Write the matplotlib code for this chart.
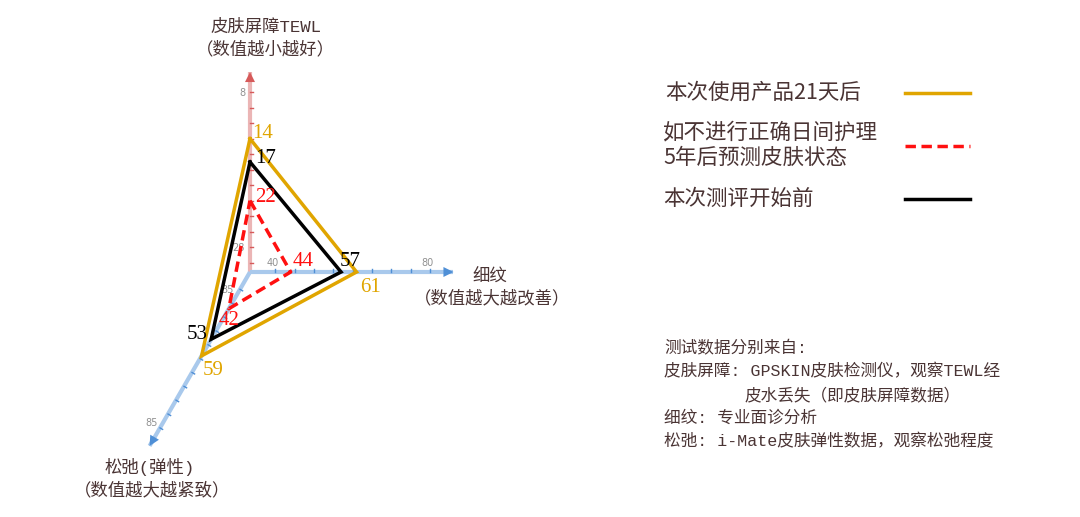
import numpy as np
import matplotlib.pyplot as plt
from matplotlib.patches import FancyArrowPatch

# data: TEWL (up), fine lines (right), sagging (down-left)
series_names = ['本次使用产品21天后', '如不进行正确日间护理\n5年后预测皮肤状态', '本次测评开始前']
tewl = [14, 22, 17]
lines_val = [61, 44, 57]
sag = [59, 42, 53]
colors = ['#E0A500', '#FF1010', '#000000']
styles = ['-', (0, (3, 1.6)), '-']

tewl_ticks = list(range(8, 31, 2))
lines_ticks = list(range(40, 81, 5))
sag_ticks = list(range(35, 86, 5))

CJK = ['Noto Sans CJK SC', 'DejaVu Sans']
MONO = ['Liberation Mono', 'Noto Sans CJK SC']
TXT = '#4A3434'

O = np.array([250.0, 272.0])
sag_dir = np.array([-0.5, np.sqrt(3) / 2])


def p_tewl(v):
    return np.array([O[0], O[1] - (31.2 - v) * 7.75])


def p_lines(v):
    return np.array([O[0] + (v - 33.5) * 3.875, O[1]])


def p_sag(v):
    return O + (v - 28.75) * 3.2 * sag_dir


fig = plt.figure(figsize=(10.8, 5.17), dpi=100)
ax = fig.add_axes([0, 0, 1, 1])
ax.set_xlim(0, 1080)
ax.set_ylim(517, 0)
ax.axis('off')


def draw_axis(tip, shaft_col, head_col, tick_pts, normal):
    ax.plot([O[0], tip[0]], [O[1], tip[1]], color=shaft_col, lw=3, zorder=1,
            solid_capstyle='butt')
    d = (tip - O) / np.linalg.norm(tip - O)
    start = tip - d * 16
    ax.add_patch(FancyArrowPatch(start, tip, arrowstyle='-|>', mutation_scale=18,
                                 color=head_col, lw=0, shrinkA=0, shrinkB=0, zorder=2))
    for p in tick_pts:
        q1 = p + normal * 3
        ax.plot([p[0], q1[0]], [p[1], q1[1]], color=head_col, lw=1, zorder=1)


draw_axis(p_tewl(5.4), '#EBB5B5', '#D65A5A', [p_tewl(v) for v in tewl_ticks], np.array([1, 0]))
draw_axis(p_lines(86.0), '#A9C9EC', '#4F8FD6', [p_lines(v) for v in lines_ticks], np.array([0, -1]))
draw_axis(p_sag(91.5), '#A9C9EC', '#4F8FD6', [p_sag(v) for v in sag_ticks], np.array([0.866, 0.5]))

# small axis tick labels
tick_kw = dict(fontsize=7, color='#909090', ha='center', va='center')
ax.text(242, 93, '8', **tick_kw)
ax.text(238, 248, '28', **tick_kw)
ax.text(273, 263, '40', **tick_kw)
ax.text(428, 263, '80', **tick_kw)
ax.text(228, 290, '35', **tick_kw)
ax.text(152, 423, '85', **tick_kw)

# polygons
for i in range(3):
    pts = np.array([p_tewl(tewl[i]), p_lines(lines_val[i]), p_sag(sag[i])])
    pts = np.vstack([pts, pts[:1]])
    ax.plot(pts[:, 0], pts[:, 1], color=colors[i], lw=2.5, linestyle=styles[i],
            zorder=3 + i, solid_joinstyle='miter')

# value labels
num_kw = dict(fontsize=15, family='Liberation Serif', va='center')
offs_tewl = [(13, -5), (16, -3), (16, -3)]
offs_lines = [(14, 15), (12, -10), (9, -11)]
offs_sag = [(12, 15), (0, 12), (-14, -5)]
for i in range(3):
    p = p_tewl(tewl[i]) + offs_tewl[i]
    ax.text(p[0], p[1], str(tewl[i]), color=colors[i], ha='center', zorder=8, **num_kw)
    p = p_lines(lines_val[i]) + offs_lines[i]
    ax.text(p[0], p[1], str(lines_val[i]), color=colors[i], ha='center', zorder=8, **num_kw)
    p = p_sag(sag[i]) + offs_sag[i]
    ax.text(p[0], p[1], str(sag[i]), color=colors[i], ha='center', zorder=8, **num_kw)

# axis titles
title_kw = dict(fontsize=12.5, color=TXT, ha='center', va='center', family=MONO)
ax.text(266, 27, '皮肤屏障TEWL', **title_kw)
ax.text(265, 49, '（数值越小越好）', **title_kw)
ax.text(490, 277, '细纹', **title_kw)
ax.text(492, 298, '（数值越大越改善）', **title_kw)
ax.text(150, 467, '松弛(弹性)', **title_kw)
ax.text(152, 490, '（数值越大越紧致）', **title_kw)

# legend
leg_kw = dict(fontsize=15.5, color=TXT, ha='left', va='center', family=CJK, style='italic')
ax.text(665, 93, series_names[0], **leg_kw)
ax.text(663, 145, series_names[1], linespacing=1.2, **leg_kw)
ax.text(663, 199, series_names[2], **leg_kw)
for y, c, s in zip([93, 146, 199], colors, styles):
    ax.plot([905, 970], [y, y], color=c, lw=2.5, linestyle=s)

# notes
note_kw = dict(fontsize=12, color=TXT, ha='left', va='center', family=MONO)
ax.text(664, 348, '测试数据分别来自:', **note_kw)
ax.text(664, 371, '皮肤屏障: GPSKIN皮肤检测仪，观察TEWL经', **note_kw)
ax.text(745, 395, '皮水丢失（即皮肤屏障数据）', **note_kw)
ax.text(664, 418, '细纹: 专业面诊分析', **note_kw)
ax.text(664, 441, '松弛: i-Mate皮肤弹性数据，观察松弛程度', **note_kw)

fig.savefig('out.png', dpi=100)
